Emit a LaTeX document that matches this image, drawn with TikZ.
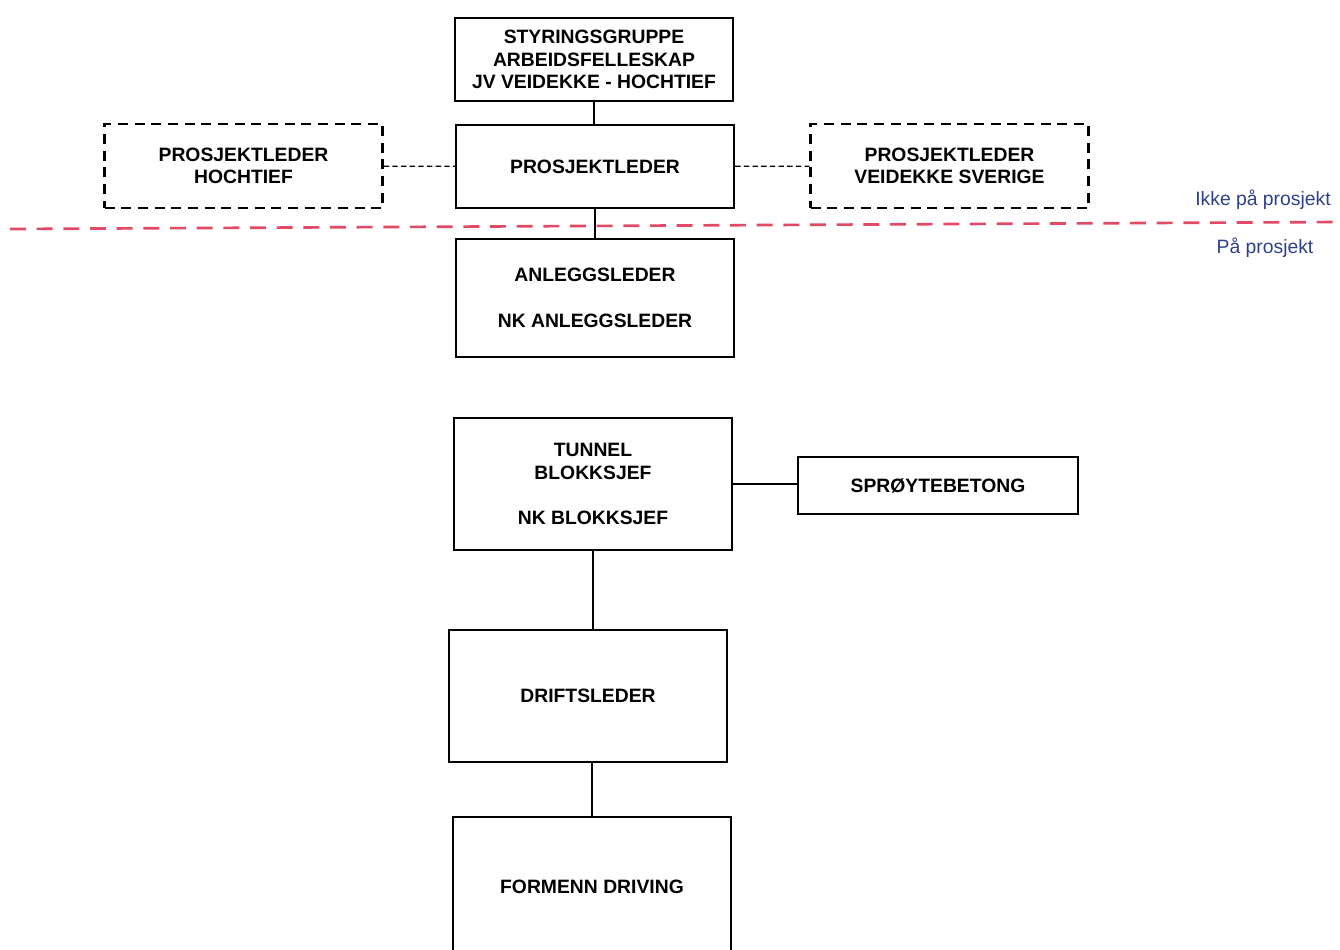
\documentclass[tikz,border=0pt]{standalone}
\usepackage{fontspec}
\setmainfont{Liberation Sans}
\usepackage{xcolor}
\definecolor{linered}{HTML}{E04A66}
\definecolor{labelblue}{HTML}{2E3F8C}

\begin{document}
\begin{tikzpicture}[x=0.75pt,y=-0.75pt,
    box/.style={draw, line width=1.8pt, minimum width=208.5pt, inner sep=0pt, align=center,
        font=\fontsize{14.5}{17}\selectfont\bfseries},
    dbox/.style={box, dash pattern=on 7.5pt off 5pt},
    link/.style={line width=1pt},
    dlink/.style={line width=1pt, dash pattern=on 4pt off 2.5pt},
    side/.style={text=labelblue, font=\fontsize{14.5}{17}\selectfont}]
                \useasboundingbox (0,0) rectangle (1340,950);

                \node[box, minimum height=62.25pt] (styr) at (594,59.5) {STYRINGSGRUPPE\\ARBEIDSFELLESKAP\\JV VEIDEKKE - HOCHTIEF};
                \node[box, minimum height=62.25pt] (pl) at (595,166.5) {PROSJEKTLEDER};
                \node[dbox, minimum height=63pt] (plh) at (243.5,166) {PROSJEKTLEDER\\HOCHTIEF};
                \node[dbox, minimum height=63pt] (plv) at (949.5,166) {PROSJEKTLEDER\\VEIDEKKE SVERIGE};
                \node[box, minimum height=88.5pt] (al) at (595,298) {ANLEGGSLEDER\\[17pt]NK ANLEGGSLEDER};

                \coordinate (redL) at (10,229);
                \coordinate (redR) at (1340,222);
                \draw[linered, line width=2pt, dash pattern=on 12pt off 8pt] (redL) -- (redR);
                \node[side] (ikke) at (1263,200) {Ikke på prosjekt};
                \node[side] (paa) at (1265,248) {På prosjekt};

                \node[box, minimum height=99pt] (tun) at (593,484) {TUNNEL\\BLOKKSJEF\\[17pt]NK BLOKKSJEF};
                \node[box, minimum height=42.75pt, minimum width=210pt] (spr) at (938,485.5) {SPRØYTEBETONG};
                \node[box, minimum height=99pt] (drift) at (588,696) {DRIFTSLEDER};
                \node[box, minimum height=105pt] (form) at (592,887) {FORMENN DRIVING};

                \draw[line width=1.5pt] (styr) -- (styr.south |- pl.north);
                \draw[line width=1.5pt] (pl) -- (pl.south |- al.north);
                \draw[dlink] (plh) -- (pl);
                \draw[dlink] (pl) -- (plv);
                \draw[link] (tun.east) -- (tun.east -| spr.west);
                \draw[link] (tun.south) -- (tun.south |- drift.north);
                \draw[link] (form.north) -- (form.north |- drift.south);
            \end{tikzpicture}
\end{document}
